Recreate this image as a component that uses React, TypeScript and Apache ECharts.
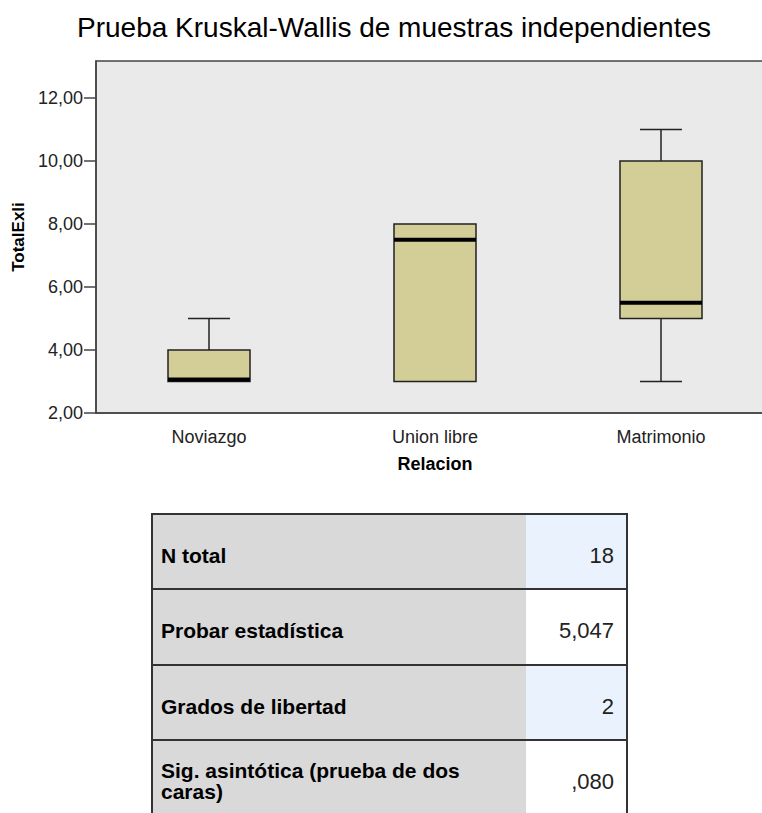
import React, { useEffect, useRef } from "react";
import * as echarts from "echarts";

const categories = ["Noviazgo", "Union libre", "Matrimonio"];
const whiskerLow = [3, 3, 3];
const q1 = [3, 3, 5];
const medians = [3, 7.5, 5.5];
const q3 = [4, 8, 10];
const whiskerHigh = [5, 8, 11];

const yTicks = [2, 4, 6, 8, 10, 12];

const tableLabels = ["N total", "Probar estadística", "Grados de libertad", ["Sig. asintótica (prueba de dos", "caras)"]];
const tableValues = ["18", "5,047", "2", ",080"];

const FONT = "'Liberation Sans', Arial, sans-serif";

export default function App() {
  const ref = useRef<HTMLDivElement>(null);
  useEffect(() => {
    document.body.style.margin = "0";
    const chart = echarts.init(ref.current!, null, { renderer: "svg" });

    const data = categories.map((_, i) => [i, whiskerLow[i], q1[i], medians[i], q3[i], whiskerHigh[i]]);

    const tLeft = 152, tRight = 627, tSplit = 526;
    const rowTops = [514, 589, 665, 740];
    const rowBottoms = [589, 665, 740, 830];
    const valueBg = ["#EAF3FD", "#FFFFFF", "#EAF3FD", "#FFFFFF"];
    const graphics: any[] = [];
    rowTops.forEach((top, i) => {
      const h = rowBottoms[i] - top;
      graphics.push({ type: "rect", shape: { x: tLeft, y: top, width: tSplit - tLeft, height: h }, style: { fill: "#D9D9D9" }, z: 1 });
      graphics.push({ type: "rect", shape: { x: tSplit, y: top, width: tRight - tSplit, height: h }, style: { fill: valueBg[i] }, z: 1 });
      const lab = tableLabels[i];
      const labText = Array.isArray(lab) ? lab.join("\n") : lab;
      const midY = top + 41;
      graphics.push({
        type: "text",
        x: 161,
        y: midY,
        style: {
          text: labText,
          font: `bold 21px ${FONT}`,
          fill: "#000",
          textVerticalAlign: "middle",
          lineHeight: 21,
        },
        z: 3,
      });
      graphics.push({
        type: "text",
        x: 614,
        y: midY,
        style: {
          text: tableValues[i],
          font: `22px ${FONT}`,
          fill: "#222",
          textAlign: "right",
          textVerticalAlign: "middle",
        },
        z: 3,
      });
    });
    rowTops.forEach((top) => {
      graphics.push({ type: "line", shape: { x1: tLeft, y1: top, x2: tRight, y2: top }, style: { stroke: "#333", lineWidth: 2 }, z: 4 });
    });
    graphics.push({ type: "line", shape: { x1: tLeft, y1: 513, x2: tLeft, y2: 830 }, style: { stroke: "#333", lineWidth: 2 }, z: 4 });
    graphics.push({ type: "line", shape: { x1: tRight, y1: 513, x2: tRight, y2: 830 }, style: { stroke: "#333", lineWidth: 2 }, z: 4 });

    const option: any = {
      animation: false,
      title: {
        text: "Prueba Kruskal-Wallis de muestras independientes",
        left: 389,
        textAlign: "center",
        top: 8,
        textStyle: { fontFamily: FONT, fontSize: 28, fontWeight: "normal", color: "#000" },
      },
      grid: {
        left: 96,
        top: 61,
        width: 678,
        height: 352,
        show: true,
        backgroundColor: "#EAEAEA",
        borderColor: "#444",
        borderWidth: 1.5,
      },
      xAxis: {
        type: "category",
        data: categories,
        boundaryGap: true,
        name: "Relacion",
        nameLocation: "middle",
        nameGap: 42,
        nameTextStyle: { fontFamily: FONT, fontSize: 18, fontWeight: "bold", color: "#000" },
        axisLine: { lineStyle: { color: "#444", width: 1.5 } },
        axisTick: { alignWithLabel: true, length: 12, lineStyle: { color: "#444", width: 1.5 } },
        axisLabel: { fontFamily: FONT, fontSize: 18, color: "#222", margin: 15 },
        splitLine: { show: false },
      },
      yAxis: {
        type: "value",
        min: 2,
        max: 13.17,
        interval: 2,
        name: "TotalExli",
        nameLocation: "middle",
        nameGap: 68,
        nameRotate: 90,
        nameTextStyle: { fontFamily: FONT, fontSize: 17, fontWeight: "bold", color: "#000" },
        axisLine: { show: true, lineStyle: { color: "#444", width: 1.5 } },
        axisTick: { show: true, length: 12, lineStyle: { color: "#444", width: 1.5 } },
        axisLabel: {
          fontFamily: FONT,
          fontSize: 18,
          color: "#222",
          margin: 13,
          showMaxLabel: false,
          formatter: (v: number) => (yTicks.includes(v) ? v.toFixed(2).replace(".", ",") : ""),
        },
        splitLine: { show: false },
      },
      series: [
        {
          type: "custom",
          data,
          encode: { x: 0, y: [1, 2, 3, 4, 5] },
          renderItem: (params: any, api: any) => {
            const idx = api.value(0);
            const cx = api.coord([idx, api.value(3)])[0];
            const yLow = api.coord([idx, api.value(1)])[1];
            const yQ1 = api.coord([idx, api.value(2)])[1];
            const yMed = api.coord([idx, api.value(3)])[1];
            const yQ3 = api.coord([idx, api.value(4)])[1];
            const yHigh = api.coord([idx, api.value(5)])[1];
            const bw = 82;
            const cw = 42;
            const line = "#222";
            const children: any[] = [];
            if (yHigh < yQ3) {
              children.push({ type: "line", shape: { x1: cx, y1: yQ3, x2: cx, y2: yHigh }, style: { stroke: line, lineWidth: 1.5 } });
              children.push({ type: "line", shape: { x1: cx - cw / 2, y1: yHigh, x2: cx + cw / 2, y2: yHigh }, style: { stroke: line, lineWidth: 1.5 } });
            }
            if (yLow > yQ1) {
              children.push({ type: "line", shape: { x1: cx, y1: yQ1, x2: cx, y2: yLow }, style: { stroke: line, lineWidth: 1.5 } });
              children.push({ type: "line", shape: { x1: cx - cw / 2, y1: yLow, x2: cx + cw / 2, y2: yLow }, style: { stroke: line, lineWidth: 1.5 } });
            }
            children.push({
              type: "rect",
              shape: { x: cx - bw / 2, y: yQ3, width: bw, height: yQ1 - yQ3 },
              style: { fill: "#D3CE97", stroke: line, lineWidth: 1.5 },
            });
            let my = yMed;
            if (my > yQ1 - 2) my = yQ1 - 2;
            children.push({
              type: "rect",
              shape: { x: cx - bw / 2, y: my - 2, width: bw, height: 4 },
              style: { fill: "#000" },
            });
            return { type: "group", children };
          },
        },
      ],
      graphic: graphics,
    };
    chart.setOption(option);
    return () => chart.dispose();
  }, []);
  return (
    <div style={{ width: 762, height: 813, overflow: "hidden", position: "relative" }}>
      <div ref={ref} style={{ width: 776, height: 813 }} />
    </div>
  );
}
